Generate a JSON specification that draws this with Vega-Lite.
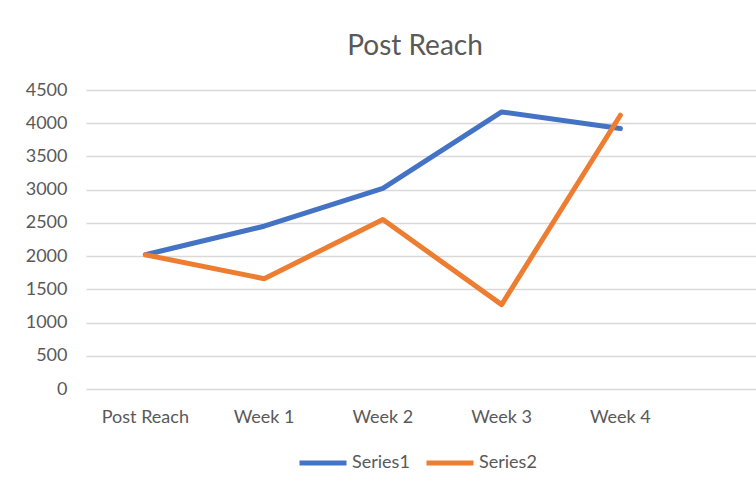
{
  "$schema": "https://vega.github.io/schema/vega-lite/v6.json",
  "width": 670,
  "height": 299,
  "autosize": {"type": "none"},
  "padding": {"left": 86, "top": 90, "right": 0, "bottom": 100},
  "background": "white",
  "title": {
    "text": "Post Reach",
    "font": "Lato",
    "fontSize": 28,
    "fontWeight": "normal",
    "color": "#595959",
    "anchor": "middle",
    "baseline": "alphabetic",
    "offset": -2,
    "dx": -6
  },
  "config": {
    "view": {"stroke": null},
    "font": "Lato"
  },
  "data": {
    "values": [
      {"week": "Post Reach", "series": "Series1", "reach": 2020},
      {"week": "Week 1", "series": "Series1", "reach": 2450},
      {"week": "Week 2", "series": "Series1", "reach": 3020},
      {"week": "Week 3", "series": "Series1", "reach": 4170},
      {"week": "Week 4", "series": "Series1", "reach": 3920},
      {"week": "Post Reach", "series": "Series2", "reach": 2020},
      {"week": "Week 1", "series": "Series2", "reach": 1660},
      {"week": "Week 2", "series": "Series2", "reach": 2550},
      {"week": "Week 3", "series": "Series2", "reach": 1270},
      {"week": "Week 4", "series": "Series2", "reach": 4120}
    ]
  },
  "mark": {"type": "line", "strokeWidth": 5, "strokeCap": "round", "strokeJoin": "round"},
  "encoding": {
    "x": {
      "field": "week",
      "type": "nominal",
      "sort": null,
      "scale": {"type": "band", "paddingInner": 0, "paddingOuter": 0.321, "align": 0},
      "axis": {
        "title": null,
        "domain": false,
        "ticks": false,
        "tickSize": 0,
        "grid": false,
        "labelAngle": 0,
        "labelFont": "Lato",
        "labelFontSize": 18,
        "labelColor": "#595959",
        "labelBaseline": "alphabetic",
        "labelPadding": 33
      }
    },
    "y": {
      "field": "reach",
      "type": "quantitative",
      "scale": {"domain": [0, 4500], "nice": false, "zero": true},
      "axis": {
        "title": null,
        "values": [0, 500, 1000, 1500, 2000, 2500, 3000, 3500, 4000, 4500],
        "format": "d",
        "domain": false,
        "ticks": false,
        "tickSize": 0,
        "grid": true,
        "gridColor": "#D9D9D9",
        "gridWidth": 1.5,
        "labelFont": "Lato",
        "labelFontSize": 18,
        "labelColor": "#595959",
        "labelPadding": 19
      }
    },
    "color": {
      "field": "series",
      "type": "nominal",
      "scale": {"domain": ["Series1", "Series2"], "range": ["#4472C4", "#ED7D31"]},
      "legend": {
        "title": null,
        "orient": "none",
        "direction": "horizontal",
        "legendX": 211,
        "legendY": 347,
        "padding": 0,
        "symbolType": "stroke",
        "symbolSize": 2209,
        "symbolStrokeWidth": 5,
        "labelFont": "Lato",
        "labelFontSize": 18,
        "labelColor": "#595959",
        "labelOffset": 3,
        "columnPadding": 6
      }
    }
  }
}
